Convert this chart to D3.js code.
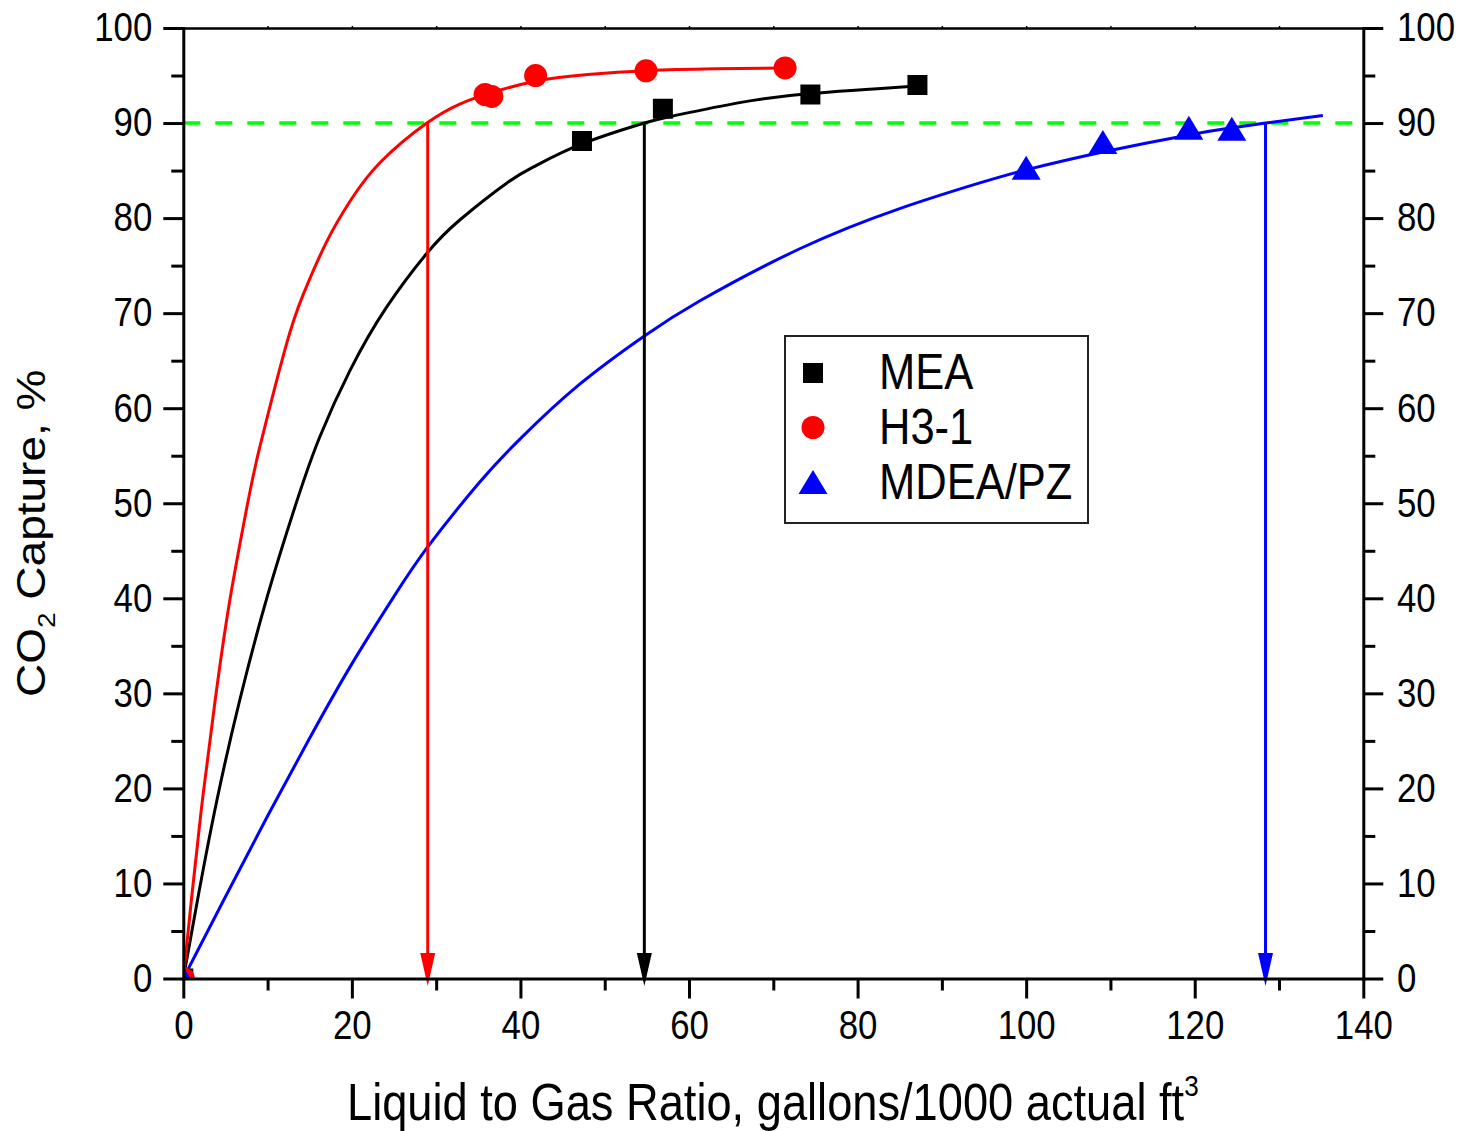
<!DOCTYPE html>
<html>
<head>
<meta charset="utf-8">
<script src="https://cdn.jsdelivr.net/npm/d3@7"></script>
<style>
  body { margin: 0; background: #fff; }
  svg text { font-family: "Liberation Sans", Arial, sans-serif; fill: #000; }
</style>
</head>
<body>
<div id="chart"></div>
<script>
// measured points
const meaX = [0, 47.3, 56.9, 74.4, 87.1];
const meaY = [0, 88.1, 91.5, 93.0, 94.0];
const h31X = [0, 35.8, 36.6, 41.8, 54.9, 71.4];
const h31Y = [0, 93.0, 92.8, 95.0, 95.5, 95.8];
const pzX = [0, 100, 109.1, 119.3, 124.4];
const pzY = [0, 85.3, 88.0, 89.5, 89.4];

// fitted curves
const meaFitX = [0, 1.8, 4.0, 6.7, 10.0, 13.5, 16.2, 19.8, 24.1, 28.9, 32.8, 38.4, 41.8, 47.3, 54.7, 58.1, 66.0, 74.4, 87.1];
const meaFitY = [0, 8.8, 18.8, 29.3, 40.3, 50.3, 57.0, 64.0, 70.6, 76.3, 79.8, 83.7, 85.5, 87.8, 90.0, 90.75, 92.15, 93.1, 93.9];
const h31FitX = [0, 1.0, 2.3, 3.8, 5.5, 7.7, 9.1, 12.1, 14.2, 17.0, 19.8, 23.3, 28.9, 32.8, 36.2, 41.8, 48, 55, 63, 71.4];
const h31FitY = [0, 8.6, 19.0, 29.4, 39.7, 50.3, 56.0, 66.3, 71.9, 77.5, 81.8, 85.8, 90.0, 92.0, 93.1, 94.4, 95.1, 95.5, 95.7, 95.8];
const pzFitX = [0, 5, 10, 15, 20, 25, 29, 35, 40, 47, 54.7, 61.3, 73.2, 85, 94.5, 99.9, 109.1, 119.3, 124.4, 128.4, 135.2];
const pzFitY = [0, 8.6, 17.1, 25.3, 33.1, 40.2, 45.4, 52.05, 56.8, 62.5, 67.6, 71.3, 76.8, 81.0, 83.7, 85.05, 86.95, 88.75, 89.5, 90.0, 90.8];

// 90% target and the L/G read at it
const target = 90;
const arrowX = [29.0, 54.7, 128.4];

const xTicks = [0, 20, 40, 60, 80, 100, 120, 140];
const xMinor = [10, 30, 50, 70, 90, 110, 130];
const yTicks = [0, 10, 20, 30, 40, 50, 60, 70, 80, 90, 100];
const yMinor = [5, 15, 25, 35, 45, 55, 65, 75, 85, 95];
const legendLabels = ['MEA', 'H3-1', 'MDEA/PZ'];

const colours = ['#000000', '#ff0000', '#0000ff'];
const arrowColours = ['#ff0000', '#000000', '#0000ff'];

const W = 1464, H = 1131;
const sx = 0.87; // text in the source is squeezed sideways

var x = d3.scaleLinear().domain([0, 140]).range([183.3, 1363.3]);
var y = d3.scaleLinear().domain([0, 100]).range([978.5, 28]);

const svg = d3.select('#chart').append('svg')
    .attr('width', W)
    .attr('height', H);

svg.append('defs').append('clipPath').attr('id', 'plot')
  .append('rect')
    .attr('x', x(0)).attr('y', y(100))
    .attr('width', x(140) - x(0)).attr('height', y(0) - y(100));

const tri = {
  draw(ctx) {
    const w = 29, h = 24;
    ctx.moveTo(0, -h / 2);
    ctx.lineTo(w / 2, h / 2);
    ctx.lineTo(-w / 2, h / 2);
    ctx.closePath();
  }
};
const symbols = [
  d3.symbol().type(d3.symbolSquare).size(400),
  d3.symbol().type(d3.symbolCircle).size(415),
  d3.symbol().type(tri)
];

// target line
svg.append('line')
    .attr('x1', x(0)).attr('x2', x(140))
    .attr('y1', y(target)).attr('y2', y(target))
    .attr('stroke', '#00ff00')
    .attr('stroke-width', 3.5)
    .attr('stroke-dasharray', '17,15');

// curves
const fits = [[meaFitX, meaFitY], [h31FitX, h31FitY], [pzFitX, pzFitY]];
const line = d3.line().curve(d3.curveNatural);
const plot = svg.append('g').attr('clip-path', 'url(#plot)');
fits.forEach((f, i) => {
  plot.append('path')
      .attr('d', line(f[0].map((v, j) => [x(v), y(f[1][j])])))
      .attr('fill', 'none')
      .attr('stroke', colours[i])
      .attr('stroke-width', 3);
});

// arrows down to the axis
arrowX.forEach((v, i) => {
  const tip = y(0) + 7.5;
  plot.append('line')
      .attr('x1', x(v)).attr('x2', x(v))
      .attr('y1', y(target)).attr('y2', tip - 30)
      .attr('stroke', arrowColours[i])
      .attr('stroke-width', 3);
  svg.append('path')
      .attr('d', `M${x(v)},${tip}L${x(v) - 7.5},${tip - 33}L${x(v) + 7.5},${tip - 33}Z`)
      .attr('fill', arrowColours[i]);
});

// markers
const pts = [[meaX, meaY], [h31X, h31Y], [pzX, pzY]];
pts.forEach((p, i) => {
  plot.selectAll(null)
      .data(p[0].map((v, j) => [v, p[1][j]]))
    .enter().append('path')
      .attr('transform', d => `translate(${x(d[0])},${y(d[1])})`)
      .attr('d', symbols[i]())
      .attr('fill', colours[i]);
});

// axes
function styleAxis(g) {
  g.select('.domain').attr('stroke-width', 3).attr('stroke-linecap', 'square');
  g.selectAll('.tick line').attr('stroke-width', 3);
  g.selectAll('text').attr('font-size', 40);
}

const xAxis = svg.append('g')
    .attr('transform', `translate(0,${y(0)})`)
    .call(d3.axisBottom(x).tickValues(xTicks).tickSize(20).tickSizeOuter(0).tickPadding(12))
    .call(styleAxis);
xAxis.selectAll('text').attr('transform', `scale(${sx},1)`);

svg.append('g')
    .attr('transform', `translate(0,${y(0)})`)
    .call(d3.axisBottom(x).tickValues(xMinor).tickSize(12).tickFormat(''))
    .call(styleAxis)
    .select('.domain').remove();

svg.append('g')
    .attr('transform', `translate(0,${y(100)})`)
    .call(d3.axisTop(x).tickValues(xMinor.concat(xTicks.slice(1, -1))).tickSize(2).tickSizeOuter(0).tickFormat(''))
    .call(g => g.select('.domain').attr('stroke-width', 2.5))
    .call(g => g.selectAll('.tick line').attr('stroke-width', 1.5));

const yLeft = svg.append('g')
    .attr('transform', `translate(${x(0)},0)`)
    .call(d3.axisLeft(y).tickValues(yTicks).tickSize(20).tickSizeOuter(0))
    .call(styleAxis);
yLeft.selectAll('text').attr('x', -31 / sx).attr('transform', `scale(${sx},1)`);

svg.append('g')
    .attr('transform', `translate(${x(0)},0)`)
    .call(d3.axisLeft(y).tickValues(yMinor).tickSize(12).tickFormat(''))
    .call(styleAxis)
    .select('.domain').remove();

const yRight = svg.append('g')
    .attr('transform', `translate(${x(140)},0)`)
    .call(d3.axisRight(y).tickValues(yTicks).tickSize(20).tickSizeOuter(0))
    .call(styleAxis);
yRight.selectAll('text').attr('x', 33.7 / sx).attr('transform', `scale(${sx},1)`);

svg.append('g')
    .attr('transform', `translate(${x(140)},0)`)
    .call(d3.axisRight(y).tickValues(yMinor).tickSize(12).tickFormat(''))
    .call(styleAxis)
    .select('.domain').remove();

// axis titles
const xt = svg.append('g').attr('transform', `translate(347,1120) scale(${sx},1)`)
  .append('text').attr('font-size', 52);
xt.append('tspan').text('Liquid to Gas Ratio, gallons/1000 actual ft');
xt.append('tspan').attr('font-size', 30).attr('dy', -24).text('3');

const yt = svg.append('g').attr('transform', `translate(45,697) scale(${sx},1) rotate(-90)`)
  .append('text').attr('font-size', 46);
yt.append('tspan').text('CO');
yt.append('tspan').attr('font-size', 28).attr('dy', 12).text('2');
yt.append('tspan').attr('dy', -12).text(' Capture, %');

// legend
const legend = svg.append('g');
legend.append('rect')
    .attr('x', 785).attr('y', 336)
    .attr('width', 303).attr('height', 187)
    .attr('fill', '#fff')
    .attr('stroke', '#222')
    .attr('stroke-width', 2);
legendLabels.forEach((lab, i) => {
  legend.append('path')
      .attr('transform', `translate(813,${373 + i * 54.5})`)
      .attr('d', symbols[i]())
      .attr('fill', colours[i]);
  legend.append('g')
      .attr('transform', `translate(879,${388.5 + i * 55}) scale(${sx},1)`)
    .append('text')
      .attr('font-size', 50)
      .text(lab);
});
</script>
</body>
</html>
